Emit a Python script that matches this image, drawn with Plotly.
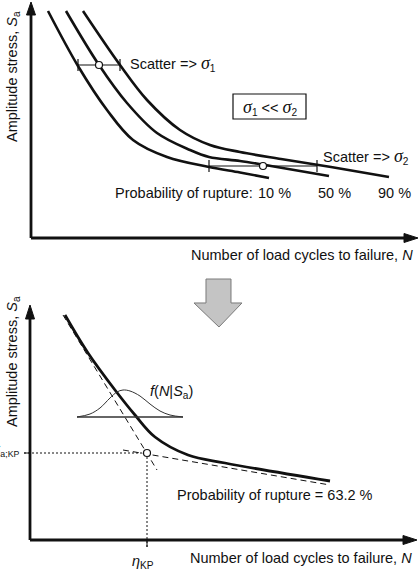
import plotly.graph_objects as go

# ---------------- data (schematic units) ----------------
# Top panel: S-N curves for three probabilities of rupture
n10 = [17, 47, 76, 102, 136, 178, 209, 238]
s10 = [227, 172, 128, 98, 81, 71, 65.5, 60]
n50 = [35, 68, 96, 126, 159, 178, 209, 240, 298]
s50 = [227, 173, 135, 105, 88, 81, 77, 72, 62]
n90 = [52, 89, 116, 149, 179, 209, 250, 300, 358]
s90 = [227, 173, 138, 108, 93, 86, 79, 71, 61]
prob_labels = ["10 %", "50 %", "90 %"]
prob_label_n = [243, 303, 363]
prob_label_s = 45
scatter1_n = [47, 68, 89]
scatter1_s = 173
scatter2_n = [178, 232, 286]
scatter2_s = 72

# Bottom panel: characteristic curve, asymptotes, knee point, pdf
nk = [35, 58, 85, 105, 125, 158, 195, 300]
sk = [225, 187, 150, 125, 103, 85, 77, 59]
asym1_n = [33, 127]
asym1_s = [225, 70]
asym2_n = [93, 300]
asym2_s = [90, 55]
eta_kp = 117
sa_kp = 87
pdf_n = [47, 60, 70, 80, 87, 93, 100, 110, 120, 130, 140, 153]
pdf_s = [123, 126, 132, 142, 148, 150, 149, 144, 136, 129, 125, 123]

FONT = "Liberation Sans, Arial, sans-serif"
FS = 14.5
BLACK = "#111111"
SIG = "<span style=\"font-family:Liberation Serif;font-size:18px\"><i>σ</i></span>"

fig = go.Figure()

def line(x, y, ax="", width=1.0, dash=None, shape="linear", color=BLACK):
    fig.add_trace(go.Scatter(
        x=x, y=y, mode="lines", xaxis="x" + ax, yaxis="y" + ax,
        line=dict(color=color, width=width, dash=dash, shape=shape, smoothing=1.0),
        hoverinfo="skip", showlegend=False))

def tri(x, y, ax=""):
    fig.add_trace(go.Scatter(
        x=x, y=y, mode="lines", fill="toself", fillcolor=BLACK, xaxis="x" + ax, yaxis="y" + ax,
        line=dict(color=BLACK, width=1), hoverinfo="skip", showlegend=False))

def circle(x, y, ax=""):
    fig.add_trace(go.Scatter(
        x=[x], y=[y], mode="markers", xaxis="x" + ax, yaxis="y" + ax,
        marker=dict(symbol="circle", size=7, color="white", line=dict(color=BLACK, width=1.2)),
        hoverinfo="skip", showlegend=False))

# ---------------- top panel ----------------
line([0, 0], [0, 224], width=2.8)
line([0, 374], [0, 0], width=2.8)
tri([-4.5, 4.5, 0, -4.5], [223, 223, 236, 223])
tri([373, 373, 387, 373], [-4.5, 4.5, 0, -4.5])

for n, s in [(n10, s10), (n50, s50), (n90, s90)]:
    line(n, s, width=2.6, shape="spline")

for sn, ss in [(scatter1_n, scatter1_s), (scatter2_n, scatter2_s)]:
    line([sn[0], sn[2]], [ss, ss], width=1.2)
    line([sn[0], sn[0], None, sn[2], sn[2]], [ss - 6, ss + 6, None, ss - 6, ss + 6], width=1.2)
    circle(sn[1], ss)

# ---------------- bottom panel ----------------
line([0, 0], [0, 222], ax="2", width=2.8)
line([0, 374], [0, 0], ax="2", width=2.8)
tri([-4.5, 4.5, 0, -4.5], [221, 221, 235, 221], ax="2")
tri([373, 373, 387, 373], [-4.5, 4.5, 0, -4.5], ax="2")

line(asym1_n, asym1_s, ax="2", width=1.0, dash="6px,4px")
line(asym2_n, asym2_s, ax="2", width=1.0, dash="6px,4px")
line(nk, sk, ax="2", width=2.8, shape="spline")

line([pdf_n[0], pdf_n[-1]], [pdf_s[0], pdf_s[-1]], ax="2", width=1.6, color="#333333")
line(pdf_n, pdf_s, ax="2", width=1.0, shape="spline", color="#333333")

line([-6, eta_kp], [sa_kp, sa_kp], ax="2", width=1.0, dash="2px,2px")
line([eta_kp, eta_kp], [sa_kp, -7], ax="2", width=1.0, dash="2px,2px")
line([-6, 0], [sa_kp, sa_kp], ax="2", width=1.0)
line([eta_kp, eta_kp], [0, -7], ax="2", width=1.0)
circle(eta_kp, sa_kp, ax="2")

# ---------------- annotations ----------------
ann = []
def text(x, y, t, ax="", xanchor="left", yanchor="middle", angle=0, size=FS):
    ann.append(dict(x=x, y=y, xref="x" + ax, yref="y" + ax, text=t, showarrow=False,
                    xanchor=xanchor, yanchor=yanchor, textangle=angle,
                    font=dict(family=FONT, size=size, color=BLACK)))

text(-18, 161, "Amplitude stress, <i>S</i><sub>a</sub>", xanchor="center", angle=-90)
text(384, -17, "Number of load cycles to failure, <i>N</i>", xanchor="right")
text(97, 175, "Scatter => " + SIG + "<sub>1</sub>")
text(290, 82, "Scatter => " + SIG + "<sub>2</sub>")
text(239, 131, SIG + "<sub>1</sub> << " + SIG + "<sub>2</sub>", xanchor="center")
text(82, prob_label_s, "Probability of rupture:")
for lab, xn in zip(prob_labels, prob_label_n):
    text(xn, prob_label_s, lab, xanchor="center")

text(-17, 178, "Amplitude stress, <i>S</i><sub>a</sub>", ax="2", xanchor="center", angle=-90)
text(384, -18, "Number of load cycles to failure, <i>N</i>", ax="2", xanchor="right")
text(118, 148, "<i>f</i>(<i>N</i>|<i>S</i><sub>a</sub>)", ax="2")
text(145, 45, "Probability of rupture = 63.2 %", ax="2")
text(-9, sa_kp + 2, "<i>S</i><sub>a;KP</sub>", ax="2", xanchor="right", size=12.5)
text(eta_kp - 4, -22, "<i>η</i><sub>KP</sub>", ax="2", xanchor="center")

shapes = [dict(type="rect", xref="x", yref="y", x0=202, x1=275, y0=119, y1=144,
               line=dict(color=BLACK, width=1.2), fillcolor="rgba(0,0,0,0)")]

W, H = 418, 576
arrow_px = [(206, 279), (231, 279), (231, 303), (242, 303), (219, 327), (194, 303), (206, 303)]
path = "M " + " L ".join(f"{px / W:.4f},{1 - py / H:.4f}" for px, py in arrow_px) + " Z"
shapes.append(dict(type="path", xref="paper", yref="paper", path=path,
                   fillcolor="#c4c4c4", line=dict(color="#7a7a7a", width=1)))

ax_common = dict(visible=False, showgrid=False, zeroline=False, fixedrange=True)
fig.update_layout(
    width=W, height=H,
    margin=dict(l=0, r=0, t=0, b=0),
    paper_bgcolor="white", plot_bgcolor="white",
    xaxis=dict(domain=[0, 1], range=[-31, 387], anchor="y", **ax_common),
    yaxis=dict(domain=[0.5, 1], range=[-50, 238], anchor="x", **ax_common),
    xaxis2=dict(domain=[0, 1], range=[-30, 388], anchor="y2", **ax_common),
    yaxis2=dict(domain=[0, 0.5], range=[-36, 252], anchor="x2", **ax_common),
    annotations=ann, shapes=shapes, showlegend=False,
)

fig.write_html("out.html")
